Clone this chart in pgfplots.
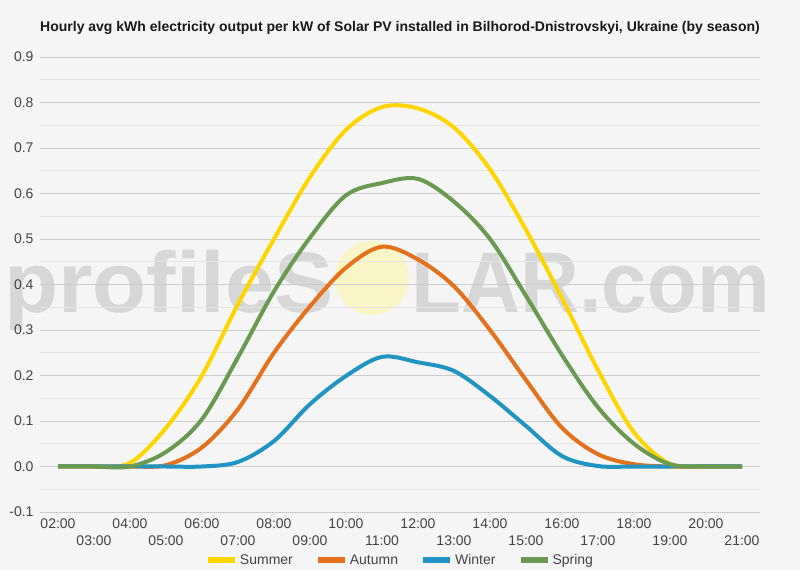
\documentclass[border=0pt]{standalone}
\usepackage{pgfplots}
\pgfplotsset{compat=1.18}
\usepackage{fontspec}
\setmainfont{Liberation Sans}
\definecolor{bg}{HTML}{F5F5F5}
\definecolor{wm}{HTML}{D7D7D7}
\definecolor{wmy}{HTML}{FAF5C6}
\definecolor{txt}{HTML}{444444}
\definecolor{gmaj}{HTML}{CCCCCC}
\definecolor{gmin}{HTML}{E4E4E4}
\definecolor{csum}{HTML}{FFD500}
\definecolor{caut}{HTML}{E5711D}
\definecolor{cwin}{HTML}{2094C2}
\definecolor{cspr}{HTML}{6A9A4F}
\begin{document}
\begin{tikzpicture}[x=1pt,y=1pt]
\fill[bg] (0,0) rectangle (800,570);
% watermark
\fill[wmy] (372,292) circle (37pt);
\node[anchor=base east, inner sep=0pt, text=wm, font=\fontsize{86}{86}\selectfont\bfseries] at (334,257) {\scalebox{1.03}[1]{profileS}};
\node[anchor=base west, inner sep=0pt, text=wm, font=\fontsize{86}{86}\selectfont\bfseries] at (411,257) {\scalebox{0.95}[1]{LAR.com}};
\begin{axis}[
  at={(40pt,58pt)}, anchor=south west,
  scale only axis, width=720pt, height=455pt,
  xmin=1.5, xmax=21.5, ymin=-0.1, ymax=0.9,
  axis line style={draw=none},
  major tick length=0pt, minor tick length=0pt,
  ytick={-0.1,0,0.1,0.2,0.3,0.4,0.5,0.6,0.7,0.8,0.9},
  minor y tick num=1,
  ymajorgrids, yminorgrids,
  major grid style={gmaj, line width=0.8pt},
  minor grid style={gmin, line width=0.8pt},
  yticklabel style={/pgf/number format/fixed, /pgf/number format/fixed zerofill, /pgf/number format/precision=1, text=txt, font=\fontsize{14}{16}\selectfont, xshift=-3pt},
  /pgf/number format/assume math mode=true,
  xtick={2,4,...,20},
  xticklabels={02:00,04:00,06:00,08:00,10:00,12:00,14:00,16:00,18:00,20:00},
  xticklabel style={text=txt, font=\fontsize{14}{16}\selectfont, yshift=-3pt},
  extra x ticks={3,5,...,21},
  extra x tick labels={03:00,05:00,07:00,09:00,11:00,13:00,15:00,17:00,19:00,21:00},
  extra x tick style={tick label style={yshift=-17pt}},
  extra y ticks={0},
  extra y tick labels={},
  extra y tick style={grid style={black!85, line width=0.8pt}},
  legend style={at={(0.5,-0.1055)}, anchor=center, legend columns=4, draw=none, fill=none,
    font=\fontsize{14}{16}\selectfont, text=txt,
    /tikz/every even column/.append style={column sep=20pt}},
  legend image code/.code={\draw[#1, line width=6pt] (0pt,0pt) -- (27pt,0pt);},
  every axis plot/.append style={line width=4pt, smooth, tension=0.55},
]
\addplot[csum] coordinates {(2,0) (3,0) (4,0.008) (5,0.085) (6,0.2) (7,0.357) (8,0.50) (9,0.636) (10,0.74) (11,0.79) (12,0.787) (13,0.745) (14,0.653) (15,0.52) (16,0.37) (17,0.212) (18,0.075) (19,0.006) (20,0) (21,0)};
\addlegendentry{Summer}
\addplot[caut] coordinates {(2,0) (3,0) (4,0) (5,0.003) (6,0.042) (7,0.126) (8,0.25) (9,0.352) (10,0.437) (11,0.483) (12,0.455) (13,0.396) (14,0.30) (15,0.19) (16,0.085) (17,0.027) (18,0.005) (19,0) (20,0) (21,0)};
\addlegendentry{Autumn}
\addplot[cwin] coordinates {(2,0) (3,0) (4,0) (5,0) (6,0) (7,0.01) (8,0.056) (9,0.137) (10,0.199) (11,0.241) (12,0.229) (13,0.21) (14,0.155) (15,0.089) (16,0.023) (17,0.001) (18,0) (19,0) (20,0) (21,0)};
\addlegendentry{Winter}
\addplot[cspr] coordinates {(2,0) (3,0) (4,0) (5,0.032) (6,0.104) (7,0.24) (8,0.385) (9,0.503) (10,0.596) (11,0.623) (12,0.632) (13,0.582) (14,0.50) (15,0.375) (16,0.245) (17,0.13) (18,0.05) (19,0.005) (20,0) (21,0)};
\addlegendentry{Spring}
\end{axis}
\node[font=\bfseries\fontsize{14}{16}\selectfont, text=black!90] at (400,542) {Hourly avg kWh electricity output per kW of Solar PV installed in Bilhorod-Dnistrovskyi, Ukraine (by season)};
\end{tikzpicture}
\end{document}
